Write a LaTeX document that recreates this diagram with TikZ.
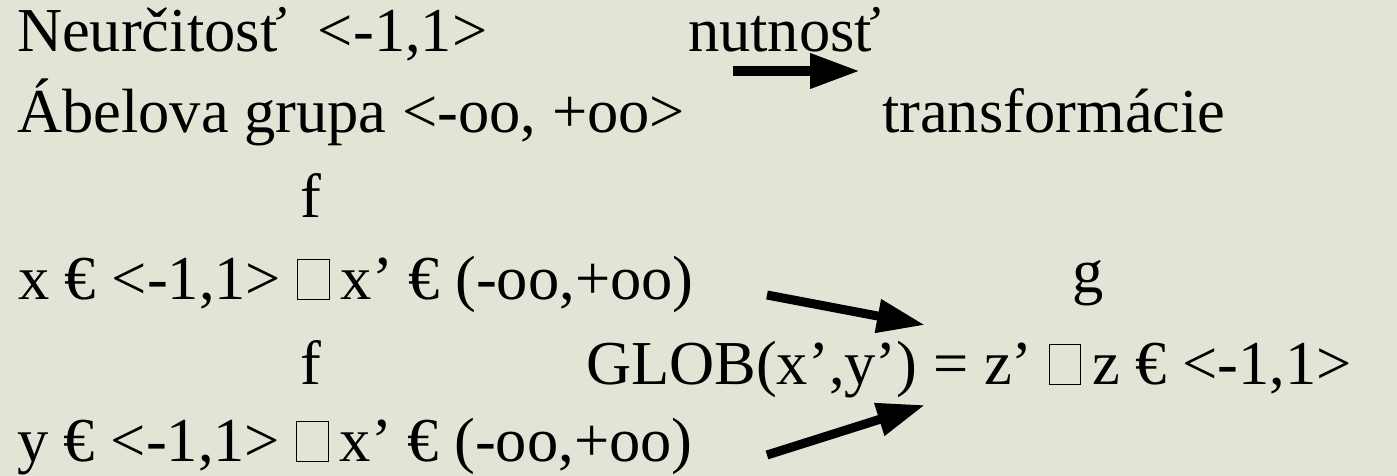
\documentclass[tikz,border=0pt]{standalone}
\usepackage{fontspec}
\setmainfont{Liberation Serif}
\usetikzlibrary{arrows.meta}
\definecolor{bgcol}{RGB}{228,228,214}
\newcommand\ndbox{\hspace*{16pt}{\fboxsep=0pt\fboxrule=0.8pt\fbox{\rule{0pt}{39pt}\hspace*{31pt}}}\hspace*{11pt}}
\begin{document}
\begin{tikzpicture}[x=1pt,y=-1pt,
  txt/.style={anchor=base west,inner sep=0pt,outer sep=0pt,font=\fontsize{62.5}{74}\selectfont},
  bigarrow/.style={line width=10pt,-{Triangle[length=50pt,width=33pt]}},
  midarrow/.style={line width=9pt,-{Triangle[length=48pt,width=32pt]}}]
\fill[bgcol] (0,0) rectangle (1397,476);
\useasboundingbox (0,0) rectangle (1397,476);
\node[txt] (neur) at (17,52) {Neurčitosť\ \ <-1,1>};
\node[txt] (nutn) at (688,52) {nutnosť};
\node[txt] (abel) at (17,133) {Ábelova grupa <-oo, +oo>};
\node[txt] (trans) at (882,133) {transformácie};
\node[txt] (f1) at (300,217) {f};
\node[txt] (xline) at (18,299) {x € <-1,1>\ndbox x’ € (-oo,+oo)};
\node[txt] (g) at (1072,292) {g};
\node[txt] (f2) at (300,384) {f};
\node[txt] (glob) at (586,384) {GLOB(x’,y’) = z’\ndbox z € <-1,1>};
\node[txt] (yline) at (17,461) {y € <-1,1>\ndbox x’ € (-oo,+oo)};
\coordinate (a1s) at (733,71);
\coordinate (a1e) at (860,71);
\coordinate (a2s) at (767,295);
\coordinate (a2e) at (925,325);
\coordinate (a3s) at (767,455);
\coordinate (a3e) at (925,405);
\draw[bigarrow] (a1s) -- (a1e);
\draw[midarrow] (a2s) -- (a2e);
\draw[midarrow] (a3s) -- (a3e);
\end{tikzpicture}
\end{document}
